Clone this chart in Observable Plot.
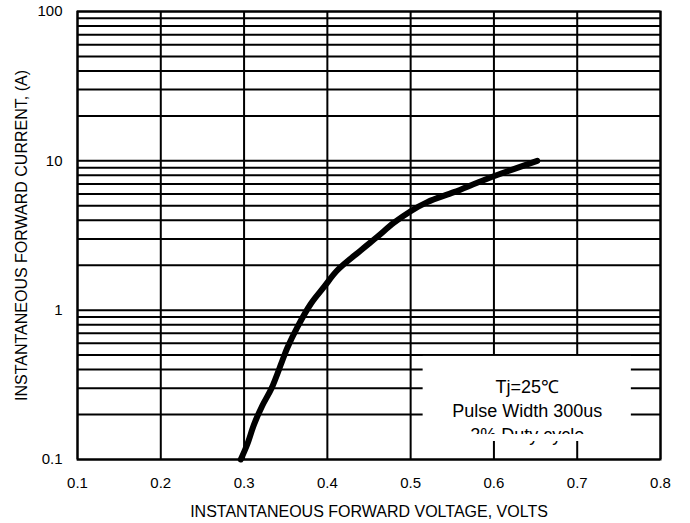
<!DOCTYPE html>
<html>
<head>
<meta charset="utf-8">
<script src="https://cdn.jsdelivr.net/npm/d3@7"></script>
<script src="https://cdn.jsdelivr.net/npm/@observablehq/plot@0.6"></script>
<style>
  html, body { margin: 0; padding: 0; background: #fff; }
  svg { display: block; }
</style>
</head>
<body>
<div id="chart"></div>
<script>
// Forward characteristic
const voltage = [0.296, 0.304, 0.312, 0.322, 0.333, 0.346, 0.352, 0.364, 0.380, 0.396, 0.412, 0.440, 0.460, 0.480, 0.500, 0.520, 0.552, 0.592, 0.652];
const current = [0.10, 0.127, 0.172, 0.230, 0.300, 0.46, 0.56, 0.77, 1.10, 1.43, 1.85, 2.51, 3.10, 3.85, 4.60, 5.29, 6.17, 7.59, 10.0];

const xTicks = [0.1, 0.2, 0.3, 0.4, 0.5, 0.6, 0.7, 0.8];
const yTickLabels = [0.1, 1, 10, 100];
const yGrid = [0.1, 0.2, 0.3, 0.4, 0.5, 0.6, 0.7, 0.8, 0.9,
               1, 2, 3, 4, 5, 6, 7, 8, 9,
               10, 20, 30, 40, 50, 60, 70, 80, 90, 100];

const noteLines = ["Tj=25\u2103", "Pulse Width 300us", "2% Duty cycle"];
const xTitle = "INSTANTANEOUS FORWARD VOLTAGE, VOLTS";
const yTitle = "INSTANTANEOUS FORWARD CURRENT, (A)";

const data = voltage.map((v, i) => ({v, i: current[i]}));
const font = "Liberation Sans, Arial, sans-serif";

const chart = Plot.plot({
  width: 690,
  height: 523,
  marginLeft: 77,
  marginRight: 30,
  marginTop: 11,
  marginBottom: 64,
  style: {fontFamily: font, background: "#fff", color: "#000"},
  x: {domain: [0.1, 0.8]},
  y: {type: "log", domain: [0.1, 100]},
  marks: [
    Plot.ruleY(yGrid, {stroke: "#000", strokeWidth: 2}),
    Plot.ruleX(xTicks, {stroke: "#000", strokeWidth: 2}),
    Plot.frame({stroke: "#000", strokeWidth: 2}),
    Plot.rect([0], {x1: 0.515, x2: 0.765, y1: 0.132, y2: 0.49, fill: "#fff"}),
    Plot.line(data, {x: "v", y: "i", stroke: "#000", strokeWidth: 6, strokeLinejoin: "round", strokeLinecap: "round", curve: "catmull-rom"}),
    Plot.text([noteLines.join("\n")], {x: 0.64, y: 0.49, lineAnchor: "top", textAnchor: "middle", dy: 20, lineHeight: 1.333, fontSize: 18, fill: "#000"}),
    Plot.rect([0], {x1: 0.515, x2: 0.765, y1: 0.132, y2: 0.147, fill: "#fff"}),
    Plot.axisX({ticks: xTicks, tickSize: 0, tickPadding: 18, fontSize: 15, label: null, tickFormat: d => String(d)}),
    Plot.axisY({ticks: yTickLabels, tickSize: 0, tickPadding: 15, fontSize: 15, label: null, tickFormat: d => String(d)}),
    Plot.text([xTitle], {frameAnchor: "bottom", dy: 52, fontSize: 16, fill: "#000", lineAnchor: "middle", textAnchor: "middle"}),
    Plot.text([yTitle], {frameAnchor: "left", dx: -56, rotate: -90, fontSize: 16, fill: "#000", lineAnchor: "middle", textAnchor: "middle"})
  ]
});
document.getElementById("chart").appendChild(chart);
</script>
</body>
</html>
